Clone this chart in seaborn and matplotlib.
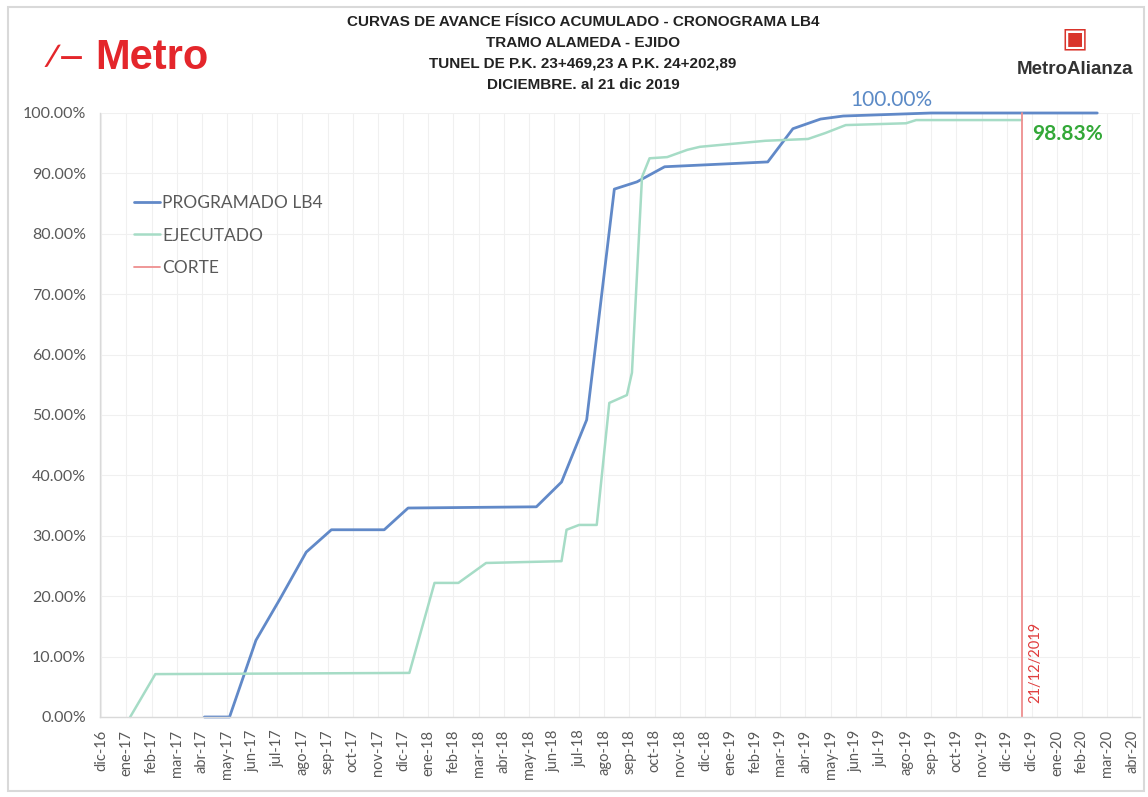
import matplotlib
matplotlib.use("Agg")
import matplotlib.pyplot as plt
import seaborn as sns
import numpy as np

# ---------------- data ----------------
month_labels = ["dic-16", "ene-17", "feb-17", "mar-17", "abr-17", "may-17", "jun-17", "jul-17",
                "ago-17", "sep-17", "oct-17", "nov-17", "dic-17", "ene-18", "feb-18", "mar-18",
                "abr-18", "may-18", "jun-18", "jul-18", "ago-18", "sep-18", "oct-18", "nov-18",
                "dic-18", "ene-19", "feb-19", "mar-19", "abr-19", "may-19", "jun-19", "jul-19",
                "ago-19", "sep-19", "oct-19", "nov-19", "dic-19", "dic-19", "ene-20", "feb-20",
                "mar-20", "abr-20"]

# position in months from dic-16 (axis units)
prog_x = [4.1, 5.1, 6.15, 7.1, 8.15, 9.15, 11.25, 12.2, 17.3, 18.3, 19.3, 20.4, 21.3,
          22.4, 26.5, 27.5, 28.6, 29.5, 33.0, 39.6]
prog_y = [0.0, 0.0, 12.7, 19.5, 27.3, 31.0, 31.0, 34.6, 34.8, 38.9, 49.2, 87.4, 88.6,
          91.1, 91.9, 97.4, 99.0, 99.5, 100.0, 100.0]

ejec_x = [1.15, 2.15, 12.25, 13.25, 14.2, 15.3, 18.3, 18.5, 19.0, 19.7, 20.2, 20.9, 21.1,
          21.5, 21.8, 22.5, 23.3, 23.8, 26.4, 28.1, 28.8, 29.6, 32.0, 32.4, 36.6]
ejec_y = [0.0, 7.1, 7.3, 22.2, 22.2, 25.5, 25.8, 31.0, 31.8, 31.8, 52.0, 53.3, 57.0,
          89.4, 92.5, 92.7, 93.9, 94.4, 95.4, 95.7, 96.7, 98.0, 98.3, 98.83, 98.83]

corte_x = [36.6, 36.6]
corte_y = [0.0, 100.0]
corte_label = "21/12/2019"

y_ticks = [0, 10, 20, 30, 40, 50, 60, 70, 80, 90, 100]

title_lines = ["CURVAS DE AVANCE FÍSICO ACUMULADO - CRONOGRAMA LB4",
               "TRAMO ALAMEDA - EJIDO",
               "TUNEL DE P.K. 23+469,23 A P.K. 24+202,89",
               "DICIEMBRE. al 21 dic 2019"]

# ---------------- style ----------------
sns.set_theme(style="white")
plt.rcParams['font.family'] = ['Lato', 'DejaVu Sans']

C_PROG = "#6189c8"
C_EJEC = "#a6dcc6"
C_CORTE = "#ee8f8f"
C_TXT = "#595959"

fig = plt.figure(figsize=(11.48, 7.97), dpi=100)
ax = fig.add_axes([100/1148, 1-717/797, 1040/1148, (717-113)/797])

sns.lineplot(x=prog_x, y=np.array(prog_y)/100, ax=ax, color=C_PROG, lw=2.0,
             estimator=None, sort=False, label="PROGRAMADO LB4")
sns.lineplot(x=ejec_x, y=np.array(ejec_y)/100, ax=ax, color=C_EJEC, lw=1.8,
             estimator=None, sort=False, label="EJECUTADO")
sns.lineplot(x=corte_x, y=np.array(corte_y)/100, ax=ax, color=C_CORTE, lw=1.3,
             estimator=None, sort=False, label="CORTE")
for ln in ax.lines:
    ln.set_clip_on(False)

ax.set_xlim(-0.05, 41.3)
ax.set_ylim(0, 1.0)
ax.set_xticks(range(len(month_labels)))
ax.set_xticklabels(month_labels, rotation=90, fontsize=10.5, color=C_TXT)
ax.set_yticks(np.array(y_ticks)/100)
ax.set_yticklabels([f"{v:.2f}%" for v in y_ticks], fontsize=11.5, color=C_TXT)
ax.tick_params(axis='x', length=0, pad=9)
ax.tick_params(axis='y', length=0, pad=10)
ax.grid(True, color="#f0f0f0", lw=0.8)
for s in ["top", "right"]:
    ax.spines[s].set_visible(False)
for s in ["left", "bottom"]:
    ax.spines[s].set_color("#d9d9d9")
    ax.spines[s].set_linewidth(1.0)

leg = ax.legend(loc="upper left", bbox_to_anchor=(0.018, 0.89), frameon=False,
                fontsize=12.5, handlelength=1.45, handletextpad=0.15, labelspacing=0.95)
for t in leg.get_texts():
    t.set_color(C_TXT)

# annotations
ax.text(31.4, 1.022, f"{prog_y[-1]:.2f}%", color="#5b8ac6", fontsize=15,
        ha="center", va="center")
ax.text(corte_x[0] + 0.4, 0.966, f"{ejec_y[-1]:.2f}%", color="#33a838",
        fontsize=15, fontweight="bold", ha="left", va="center")
ax.text(corte_x[0] + 0.55, 0.091, corte_label, color="#e03c3c", fontsize=10.5,
        rotation=90, ha="center", va="center")

# titles
narrow = ['Liberation Sans Narrow', 'Liberation Sans', 'DejaVu Sans']
for i, line in enumerate(title_lines):
    fig.text(583/1148, 1 - (22 + i*21)/797, line, ha="center", va="center",
             fontsize=11, fontweight="bold", family=narrow, color="#222222")

# logos (text)
fig.text(95/1148, 1 - 58/797, "Metro", ha="left", va="center", fontsize=30,
         fontweight="bold", family=narrow, color="#e4262b")
fig.text(45/1148, 1 - 58/797, "\u2215\u2014", ha="left", va="center", fontsize=22,
         fontweight="bold", color="#e4262b")
fig.text(1075/1148, 1 - 70/797, "MetroAlianza", ha="center", va="center", fontsize=13.5,
         fontweight="bold", family=['Liberation Sans', 'DejaVu Sans'], color="#333333")
fig.text(1075/1148, 1 - 38/797, "\u25a3", ha="center", va="center", fontsize=20,
         color="#d9342b")

# outer border
fig.patches.append(plt.Rectangle((8/1148, 6/797), 1136/1148, 784/797, transform=fig.transFigure,
                                 fill=False, edgecolor="#d9d9d9", lw=1.5))

fig.savefig("out.png", dpi=100, facecolor="white")
